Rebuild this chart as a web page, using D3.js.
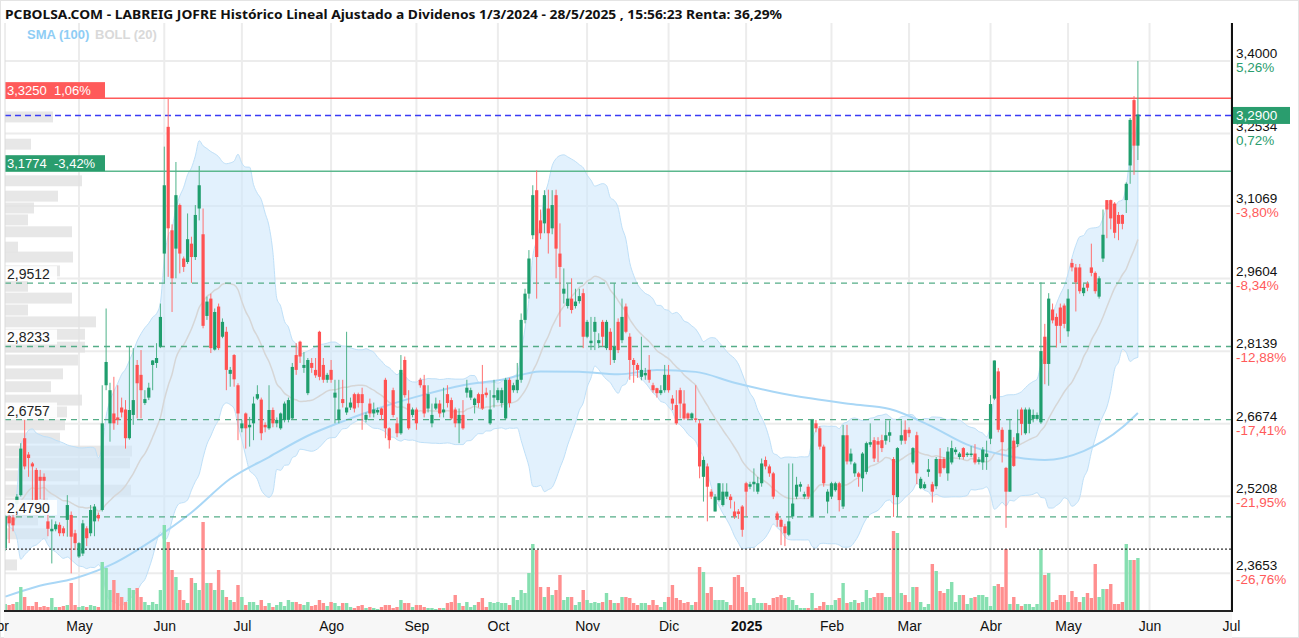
<!DOCTYPE html>
<html><head><meta charset="utf-8">
<script src="https://cdn.jsdelivr.net/npm/d3@7"></script>
<style>body{margin:0;background:#fff;overflow:hidden}svg{display:block}</style>
</head><body>
<svg id="c" width="1299" height="638"></svg>
<script>
const title = "PCBOLSA.COM - LABREIG JOFRE Histórico Lineal Ajustado a Dividenos 1/3/2024 - 28/5/2025 , 15:56:23 Renta: 36,29%";
const firstCalendarDay = "2024-04-02";
const lastCalendarDay = "2025-07-01";
const holidays = ["2024-05-01","2024-12-25","2024-12-26","2025-01-01","2025-04-18","2025-04-21","2025-05-01"];
const firstCandleDay = "2024-04-04";
const monthLabels = ["Abr","May","Jun","Jul","Ago","Sep","Oct","Nov","Dic","2025","Feb","Mar","Abr","May","Jun","Jul"];

// [open, high, low, close]
const candles = [
// Apr 2024
[2.416,2.482,2.410,2.480],[2.480,2.483,2.426,2.466],[2.478,2.485,2.450,2.462],[2.505,2.525,2.490,2.520],[2.523,2.628,2.520,2.617],
[2.638,2.675,2.575,2.581],[2.605,2.610,2.560,2.598],[2.587,2.590,2.513,2.581],[2.574,2.578,2.510,2.513],[2.560,2.574,2.515,2.552],
[2.560,2.567,2.513,2.552],[2.470,2.500,2.440,2.455],[2.450,2.474,2.385,2.455],[2.454,2.470,2.450,2.464],[2.463,2.468,2.440,2.446],
[2.456,2.460,2.440,2.446],[2.473,2.523,2.439,2.503],[2.483,2.490,2.365,2.439],[2.446,2.453,2.412,2.426],
// May
[2.399,2.428,2.396,2.426],[2.405,2.473,2.400,2.466],[2.456,2.460,2.420,2.436],[2.446,2.503,2.440,2.493],[2.470,2.505,2.440,2.500],
[2.483,2.488,2.470,2.476],[2.493,2.745,2.490,2.668],[2.745,2.900,2.735,2.792],[2.668,2.750,2.631,2.735],[2.688,2.762,2.655,2.668],
[2.680,2.745,2.665,2.675],[2.700,2.720,2.680,2.690],[2.696,2.715,2.617,2.638],[2.638,2.823,2.635,2.695],[2.685,2.820,2.665,2.715],
[2.786,2.796,2.678,2.749],[2.766,2.816,2.678,2.735],[2.709,2.735,2.705,2.717],[2.720,2.750,2.715,2.740],[2.786,2.796,2.735,2.795],
[2.790,2.830,2.780,2.800],[2.823,2.910,2.820,2.883],
// Jun
[3.011,3.227,2.951,3.149],[3.267,3.326,2.964,3.062],[3.058,3.070,2.893,2.961],[3.021,3.196,2.961,3.129],[3.109,3.112,2.971,3.011],
[3.001,3.005,2.974,2.984],[2.994,3.092,2.990,3.040],[3.031,3.045,2.952,3.004],[3.004,3.109,2.998,3.089],[3.102,3.188,3.078,3.149],
[3.050,3.102,2.860,2.865],[2.885,2.924,2.877,2.914],[2.920,2.930,2.810,2.820],[2.817,2.900,2.815,2.893],[2.904,2.910,2.816,2.820],
[2.843,2.880,2.840,2.873],[2.853,2.863,2.735,2.776],[2.768,2.782,2.742,2.776],[2.806,2.808,2.742,2.757],[2.745,2.749,2.634,2.688],
// Jul
[2.658,2.675,2.650,2.668],[2.688,2.690,2.617,2.658],[2.660,2.681,2.621,2.665],[2.668,2.722,2.634,2.708],[2.718,2.745,2.715,2.727],
[2.716,2.720,2.634,2.648],[2.665,2.670,2.650,2.660],[2.658,2.745,2.655,2.695],[2.695,2.700,2.660,2.668],[2.668,2.680,2.660,2.675],
[2.658,2.690,2.655,2.688],[2.675,2.712,2.670,2.708],[2.675,2.720,2.670,2.715],[2.678,2.790,2.675,2.782],[2.806,2.830,2.766,2.776],
[2.833,2.835,2.790,2.803],[2.780,2.812,2.770,2.786],[2.729,2.800,2.725,2.796],[2.790,2.800,2.770,2.780],[2.776,2.800,2.760,2.765],
[2.853,2.855,2.755,2.762],[2.786,2.800,2.750,2.756],[2.756,2.770,2.750,2.766],
// Ago
[2.776,2.796,2.750,2.756],[2.720,2.756,2.668,2.730],[2.675,2.756,2.668,2.696],[2.717,2.756,2.700,2.709],[2.690,2.853,2.685,2.700],
[2.700,2.720,2.695,2.710],[2.727,2.730,2.690,2.698],[2.727,2.730,2.700,2.709],[2.727,2.740,2.655,2.709],[2.675,2.690,2.670,2.685],
[2.708,2.718,2.680,2.688],[2.688,2.710,2.680,2.696],[2.690,2.700,2.685,2.695],[2.698,2.700,2.675,2.685],[2.756,2.760,2.638,2.658],
[2.658,2.660,2.617,2.634],[2.735,2.740,2.680,2.685],[2.668,2.680,2.640,2.648],[2.648,2.806,2.645,2.776],[2.796,2.803,2.720,2.725],
[2.708,2.735,2.655,2.658],[2.685,2.700,2.680,2.696],
// Sep
[2.696,2.700,2.655,2.668],[2.756,2.760,2.740,2.745],[2.745,2.766,2.680,2.688],[2.698,2.745,2.690,2.727],[2.668,2.708,2.660,2.685],
[2.698,2.720,2.695,2.708],[2.708,2.715,2.680,2.688],[2.690,2.740,2.680,2.696],[2.727,2.745,2.700,2.709],[2.715,2.720,2.675,2.678],
[2.696,2.700,2.660,2.668],[2.668,2.698,2.628,2.685],[2.685,2.715,2.655,2.658],[2.730,2.756,2.720,2.740],[2.720,2.740,2.715,2.735],
[2.705,2.720,2.688,2.718],[2.727,2.730,2.700,2.709],[2.727,2.786,2.695,2.698],[2.730,2.740,2.720,2.725],[2.668,2.735,2.665,2.696],
[2.720,2.756,2.700,2.725],
// Oct
[2.715,2.740,2.710,2.735],[2.709,2.740,2.700,2.735],[2.678,2.760,2.675,2.756],[2.756,2.760,2.700,2.709],[2.735,2.750,2.730,2.745],
[2.735,2.790,2.729,2.756],[2.756,2.890,2.750,2.877],[2.877,2.940,2.870,2.930],[2.930,3.018,2.920,3.001],[3.048,3.149,3.040,3.129],
[3.139,3.179,2.920,3.004],[3.078,3.100,3.040,3.052],[3.072,3.139,3.052,3.129],[3.102,3.140,3.011,3.052],[3.062,3.139,3.050,3.109],
[3.129,3.140,2.961,3.021],[3.011,3.072,2.863,2.984],[2.930,2.981,2.910,2.940],[2.905,2.950,2.900,2.920],[2.920,2.961,2.890,2.897],
[2.905,2.940,2.900,2.914],[2.915,2.940,2.910,2.925],[2.931,2.940,2.820,2.843],
// Nov
[2.843,2.877,2.840,2.873],[2.830,2.883,2.816,2.835],[2.853,2.883,2.816,2.873],[2.830,2.850,2.820,2.836],[2.873,2.877,2.823,2.843],
[2.820,2.877,2.816,2.873],[2.853,2.860,2.786,2.816],[2.796,2.951,2.790,2.823],[2.873,2.880,2.810,2.816],[2.836,2.920,2.830,2.883],
[2.904,2.910,2.850,2.853],[2.843,2.850,2.756,2.796],[2.796,2.800,2.750,2.786],[2.786,2.790,2.760,2.776],[2.762,2.843,2.755,2.776],
[2.765,2.780,2.756,2.770],[2.776,2.806,2.750,2.756],[2.745,2.750,2.730,2.735],[2.739,2.740,2.720,2.729],[2.729,2.745,2.725,2.735],
[2.735,2.786,2.730,2.766],
// Dic
[2.766,2.786,2.730,2.735],[2.718,2.725,2.695,2.708],[2.705,2.735,2.665,2.668],[2.735,2.740,2.678,2.708],[2.708,2.735,2.675,2.678],
[2.688,2.690,2.675,2.678],[2.678,2.690,2.675,2.688],[2.678,2.745,2.670,2.675],[2.668,2.675,2.557,2.581],[2.560,2.601,2.510,2.594],
[2.581,2.587,2.470,2.540],[2.530,2.535,2.515,2.520],[2.490,2.525,2.490,2.520],[2.513,2.547,2.510,2.547],[2.503,2.547,2.500,2.530],
[2.520,2.547,2.515,2.530],[2.520,2.525,2.496,2.513],[2.490,2.510,2.475,2.480],[2.490,2.495,2.475,2.485],[2.500,2.503,2.439,2.453],
// Ene 2025
[2.547,2.550,2.480,2.530],[2.540,2.550,2.535,2.545],[2.545,2.577,2.530,2.550],[2.530,2.560,2.525,2.547],[2.547,2.597,2.540,2.587],
[2.594,2.601,2.575,2.581],[2.581,2.585,2.560,2.567],[2.567,2.570,2.515,2.520],[2.486,2.490,2.459,2.473],[2.473,2.476,2.422,2.459],
[2.460,2.465,2.420,2.446],[2.443,2.587,2.440,2.470],[2.480,2.587,2.475,2.506],[2.520,2.560,2.515,2.544],[2.540,2.550,2.530,2.545],
[2.520,2.530,2.515,2.525],[2.540,2.545,2.515,2.520],[2.480,2.677,2.478,2.675],[2.668,2.675,2.650,2.658],[2.658,2.662,2.615,2.621],
[2.621,2.625,2.540,2.547],[2.510,2.535,2.486,2.530],
// Feb
[2.520,2.550,2.515,2.547],[2.533,2.550,2.530,2.547],[2.547,2.550,2.490,2.513],[2.500,2.665,2.495,2.644],[2.644,2.665,2.585,2.591],
[2.591,2.617,2.585,2.607],[2.567,2.590,2.560,2.587],[2.567,2.570,2.540,2.560],[2.557,2.610,2.530,2.607],[2.570,2.631,2.565,2.628],
[2.625,2.668,2.620,2.630],[2.634,2.640,2.590,2.597],[2.632,2.640,2.590,2.625],[2.634,2.645,2.610,2.618],[2.633,2.674,2.625,2.644],
[2.643,2.674,2.630,2.650],[2.596,2.600,2.479,2.523],[2.519,2.620,2.479,2.618],[2.633,2.674,2.625,2.644],[2.655,2.674,2.626,2.633],
// Mar
[2.655,2.660,2.640,2.648],[2.589,2.620,2.585,2.618],[2.644,2.651,2.545,2.567],[2.537,2.560,2.535,2.556],[2.537,2.550,2.535,2.545],
[2.570,2.596,2.560,2.575],[2.545,2.550,2.508,2.530],[2.541,2.600,2.535,2.596],[2.596,2.618,2.560,2.567],[2.596,2.600,2.575,2.578],
[2.567,2.620,2.552,2.611],[2.589,2.633,2.585,2.618],[2.610,2.620,2.605,2.615],[2.600,2.610,2.595,2.607],[2.618,2.620,2.595,2.600],
[2.604,2.610,2.600,2.607],[2.604,2.622,2.600,2.607],[2.607,2.626,2.585,2.589],[2.590,2.600,2.585,2.595],[2.589,2.620,2.574,2.615],
[2.600,2.633,2.574,2.607],
// Abr
[2.637,2.725,2.626,2.707],[2.718,2.795,2.715,2.795],[2.773,2.780,2.650,2.655],[2.655,2.660,2.589,2.630],[2.578,2.580,2.457,2.530],
[2.530,2.677,2.530,2.655],[2.633,2.640,2.580,2.582],[2.626,2.696,2.620,2.648],[2.696,2.700,2.644,2.667],[2.648,2.700,2.645,2.696],
[2.667,2.700,2.648,2.696],[2.677,2.696,2.670,2.685],[2.677,2.690,2.674,2.685],[2.670,2.953,2.667,2.814],[2.843,2.869,2.747,2.788],
[2.788,2.931,2.744,2.920],[2.898,2.910,2.870,2.876],[2.883,2.890,2.821,2.865],[2.902,2.910,2.830,2.865],[2.906,2.910,2.860,2.869],
// May
[2.854,2.939,2.843,2.920],[2.992,3.000,2.975,2.983],[2.983,2.990,2.894,2.953],[2.983,2.990,2.930,2.935],[2.931,2.950,2.925,2.942],
[2.950,2.955,2.935,2.942],[2.983,3.031,2.965,2.972],[2.972,2.975,2.930,2.935],[2.924,2.965,2.920,2.961],[3.001,3.100,2.994,3.049],
[3.119,3.119,3.042,3.100],[3.119,3.120,3.060,3.082],[3.112,3.115,3.042,3.053],[3.089,3.095,3.038,3.071],[3.089,3.090,3.060,3.071],
[3.119,3.155,3.093,3.152],[3.189,3.285,3.152,3.281],[3.321,3.329,3.170,3.229],[3.229,3.400,3.200,3.292]
];

// volume (relative units)
const volumes = [
6,5,6,8,23,13,4,4,8,3,4,3,12,3,3,4,5,27,5,
3,4,3,5,4,3,48,42,20,30,17,13,8,22,20,22,13,8,5,8,6,20,
85,68,40,33,20,10,7,32,27,20,88,27,27,20,40,20,13,10,8,25,
13,5,8,8,5,10,4,7,3,5,8,4,10,8,8,6,5,8,4,5,10,7,4,
8,7,4,7,7,3,2,4,5,2,3,2,1,3,5,5,2,3,10,7,7,3,
5,5,3,2,2,1,2,2,7,8,15,7,4,8,3,5,8,12,3,8,7,
8,7,7,5,13,10,20,17,37,66,60,23,13,23,15,20,35,10,13,13,5,8,20,
10,7,8,7,8,17,10,7,7,13,13,12,7,5,7,7,5,10,5,3,8,
13,25,12,10,7,8,5,8,43,38,17,23,10,10,10,8,5,33,35,23,
18,5,12,7,7,7,5,12,13,15,12,13,10,5,2,2,2,17,2,4,8,5,
5,10,12,27,7,8,10,7,8,20,12,13,17,17,13,13,79,77,17,15,
8,23,23,8,3,6,46,39,19,17,21,28,8,15,15,6,12,13,15,15,13,
4,24,26,23,61,6,13,6,4,6,6,3,6,61,35,37,8,10,15,15,
8,19,13,8,13,17,12,46,13,21,21,26,6,6,8,66,50,50,52
];

// SMA(100) (trading-day index, value)
const sma100Idx = [2,10,20,30,40,50,60,70,80,90,100,110,120,130,140,150,160,170,180,190,200,210,220,230,240,250,260,270,280,290,294];
const sma100Val = [2.318,2.338,2.355,2.385,2.432,2.488,2.556,2.600,2.643,2.675,2.703,2.726,2.745,2.756,2.773,2.772,2.767,2.776,2.772,2.750,2.732,2.718,2.707,2.697,2.665,2.625,2.603,2.594,2.612,2.660,2.689];

// right axis
const axisPrices = [3.4, 3.2534, 3.1069, 2.9604, 2.8139, 2.6674, 2.5208, 2.3653];
const axisPriceLabels = ["3,4000","3,2534","3,1069","2,9604","2,8139","2,6674","2,5208","2,3653"];
const axisPctLabels = ["5,26%","0,72%","-3,80%","-8,34%","-12,88%","-17,41%","-21,95%","-26,76%"];

// support / resistance levels
const levelPrices = [2.9512, 2.8233, 2.6757, 2.4790];
const levelLabels = ["2,9512","2,8233","2,6757","2,4790"];
const lastPrice = 3.29, lastLabel = "3,2900";
const highLine = 3.325, highLabel = "3,3250  1,06%";
const lowLine = 3.1774, lowLabel = "3,1774  -3,42%";
const minLine = 2.414;

// volume profile (price bucket centre, volume)
const profilePrices = [3.287,3.232,3.158,3.127,3.103,3.079,3.055,3.024,3.004,2.976,2.945,2.921,2.897,2.873,2.848,2.822,2.796,2.768,2.742,2.715,2.691,2.665,2.638,2.612,2.588,2.562,2.533,2.507,2.473,2.445,2.382];
const profileVols   = [48,26,77,53,29,23,67,13,68,55,23,67,23,91,80,80,73,58,46,77,62,60,55,127,125,75,126,43,33,43,12];

// ---------------------------------------------------------------
const svg = d3.select("#c");
const GREEN = "#1f9e6d", RED = "#ff5252";
const VGREEN = "#86dfb0", VRED = "#ff8f8f";
const L = 5, R = 1232, T = 23, B = 610;

// trading calendar
const days = [];
for (let d = new Date(firstCalendarDay + "T12:00:00Z"); d <= new Date(lastCalendarDay + "T12:00:00Z"); d.setUTCDate(d.getUTCDate() + 1)) {
  const wd = d.getUTCDay(); const s = d.toISOString().slice(0, 10);
  if (wd === 0 || wd === 6 || holidays.includes(s)) continue;
  days.push(s);
}
const off = days.indexOf(firstCandleDay);
const monthStarts = days.map((d, i) => i).filter(i => i === 0 || days[i].slice(0, 7) !== days[i - 1].slice(0, 7));

const x = d3.scaleLinear().domain([0, days.length - 1]).range([-2.5, 1231]);
const y = d3.scaleLinear().domain([2.3653, 3.4]).range([573.2, 61]);
const yv = d3.scaleLinear().domain([0, 100]).range([B, B - 100]);
const xp = d3.scaleLinear().domain([0, 100]).range([L, L + 100]);

svg.append("defs").append("clipPath").attr("id", "plot")
  .append("rect").attr("x", L).attr("y", T).attr("width", R - L).attr("height", B - T);

// frame & backgrounds
svg.append("rect").attr("x", 0).attr("y", 0).attr("width", 1299).attr("height", 638).attr("fill", "#fff");
svg.append("rect").attr("x", 0.5).attr("y", 0.5).attr("width", 1298).attr("height", 637).attr("fill", "none").attr("stroke", "#e4e4e4");
svg.append("rect").attr("x", L - 1).attr("y", B + 2).attr("width", R - L + 1).attr("height", 26).attr("fill", "#f7f7f7");

const g = svg.append("g").attr("clip-path", "url(#plot)");

// grid
g.selectAll(".vg").data(monthStarts).join("line")
  .attr("x1", d => x(d)).attr("x2", d => x(d)).attr("y1", T).attr("y2", B)
  .attr("stroke", "#ececec").attr("stroke-width", 2);
g.selectAll(".hg").data(axisPrices).join("line")
  .attr("x1", L).attr("x2", R).attr("y1", d => y(d)).attr("y2", d => y(d))
  .attr("stroke", "#ececec").attr("stroke-width", 2);

// volume profile
const bucket = 0.0253;
g.selectAll(".vp").data(profilePrices).join("rect")
  .attr("x", L).attr("y", d => y(d + bucket / 2) + 0.8)
  .attr("width", (d, i) => xp(profileVols[i]) - L)
  .attr("height", d => y(d - bucket / 2) - y(d + bucket / 2) - 1.6)
  .attr("fill", "#e3e3e3").attr("opacity", 0.85);

// Bollinger (20, 2)
const closes = candles.map(c => c[3]);
const boll = closes.map((c, k) => {
  const w = closes.slice(Math.max(0, k - 19), k + 1);
  const m = d3.mean(w);
  const sd = Math.sqrt(d3.mean(w, v => (v - m) * (v - m)));
  return { i: k + off, m, u: m + 2 * sd, l: m - 2 * sd };
});
g.append("path").datum(boll)
  .attr("d", d3.area().x(d => x(d.i)).y0(d => y(d.l)).y1(d => y(d.u)).curve(d3.curveMonotoneX))
  .attr("fill", "#cfe8fb").attr("fill-opacity", 0.6)
  .attr("stroke", "#bfe0f8").attr("stroke-width", 1);
g.append("path").datum(boll)
  .attr("d", d3.line().x(d => x(d.i)).y(d => y(d.m)).curve(d3.curveMonotoneX))
  .attr("fill", "none").attr("stroke", "#d6d6d6").attr("stroke-width", 1.5);

// SMA 100
g.append("path").datum(sma100Idx.map((d, i) => [d, sma100Val[i]]))
  .attr("d", d3.line().x(d => x(d[0])).y(d => y(d[1])).curve(d3.curveMonotoneX))
  .attr("fill", "none").attr("stroke", "#a9d7f6").attr("stroke-width", 2);

// volume bars
g.selectAll(".vol").data(volumes).join("rect")
  .attr("x", (d, k) => x(k + off) - 1.7).attr("width", 3.4)
  .attr("y", d => yv(d)).attr("height", d => B - yv(d))
  .attr("fill", (d, k) => candles[k][3] >= candles[k][0] ? VGREEN : VRED);

// level lines
g.selectAll(".lvl").data(levelPrices).join("line")
  .attr("x1", L).attr("x2", R).attr("y1", d => y(d)).attr("y2", d => y(d))
  .attr("stroke", "#55ad88").attr("stroke-width", 1.3).attr("stroke-dasharray", "6,5");
g.append("line").attr("x1", L).attr("x2", R).attr("y1", y(minLine)).attr("y2", y(minLine))
  .attr("stroke", "#333").attr("stroke-width", 1.2).attr("stroke-dasharray", "2,2");
g.append("line").attr("x1", L).attr("x2", R).attr("y1", y(highLine)).attr("y2", y(highLine))
  .attr("stroke", "#ff5a5a").attr("stroke-width", 1.5);
g.append("line").attr("x1", L).attr("x2", R).attr("y1", y(lowLine)).attr("y2", y(lowLine))
  .attr("stroke", "#5cb88e").attr("stroke-width", 1.5);
g.append("line").attr("x1", L).attr("x2", R).attr("y1", y(lastPrice)).attr("y2", y(lastPrice))
  .attr("stroke", "#3b3bf5").attr("stroke-width", 1.5).attr("stroke-dasharray", "6,4");

// candles
const cg = g.selectAll(".cd").data(candles).join("g");
cg.append("line")
  .attr("x1", (d, k) => x(k + off)).attr("x2", (d, k) => x(k + off))
  .attr("y1", d => y(d[1])).attr("y2", d => y(d[2]))
  .attr("stroke", d => d[3] >= d[0] ? "#4fb38a" : "#ff7070").attr("stroke-width", 1);
cg.append("rect")
  .attr("x", (d, k) => x(k + off) - 1.6).attr("width", 3.2)
  .attr("y", d => y(Math.max(d[0], d[3])))
  .attr("height", d => Math.max(1.2, Math.abs(y(d[0]) - y(d[3]))))
  .attr("fill", d => d[3] >= d[0] ? GREEN : RED);

// left labels for levels
const FONT = "'Liberation Sans', Arial, sans-serif";
levelPrices.forEach((p, i) => {
  svg.append("rect").attr("x", L).attr("y", y(p) - 17).attr("width", 52).attr("height", 15).attr("fill", "#fff").attr("opacity", 0.9);
  svg.append("text").attr("x", L + 2).attr("y", y(p) - 4).text(levelLabels[i])
    .attr("font-family", FONT).attr("font-size", 14).attr("fill", "#222");
});
svg.append("rect").attr("x", L).attr("y", y(highLine) - 16).attr("width", 100).attr("height", 16).attr("fill", "#ff5a5a");
svg.append("text").attr("x", L + 2).attr("y", y(highLine) - 3.5).text(highLabel).attr("xml:space", "preserve")
  .attr("font-family", FONT).attr("font-size", 13).attr("fill", "#fff");
svg.append("rect").attr("x", L).attr("y", y(lowLine) - 16).attr("width", 100).attr("height", 16).attr("fill", "#2a9d6e");
svg.append("text").attr("x", L + 2).attr("y", y(lowLine) - 3.5).text(lowLabel).attr("xml:space", "preserve")
  .attr("font-family", FONT).attr("font-size", 13).attr("fill", "#fff");

// plot border lines
svg.append("line").attr("x1", L).attr("x2", L).attr("y1", T).attr("y2", B).attr("stroke", "#dcdcdc");
svg.append("line").attr("x1", R).attr("x2", R).attr("y1", T).attr("y2", B + 2).attr("stroke", "#111").attr("stroke-width", 2);

// x axis
const xAxis = d3.axisBottom(x).tickValues(monthStarts).tickFormat((d, i) => monthLabels[i]).tickSize(0).tickPadding(0);
const ax = svg.append("g").attr("transform", `translate(0,${B})`).call(xAxis);
ax.select(".domain").remove();
ax.selectAll("text").attr("font-family", "'Liberation Sans Narrow','Arial Narrow','Liberation Sans',sans-serif")
  .attr("font-size", 14).attr("fill", "#111").attr("dy", 0).attr("y", 21)
  .attr("font-weight", (d, i) => monthLabels[i] === "2025" ? "bold" : "normal");
svg.append("line").attr("x1", L - 1).attr("x2", R).attr("y1", B + 1).attr("y2", B + 1).attr("stroke", "#222").attr("stroke-width", 2);

// right axis labels
axisPrices.forEach((p, i) => {
  svg.append("text").attr("x", 1236).attr("y", y(p) - 3).text(axisPriceLabels[i])
    .attr("font-family", FONT).attr("font-size", 13.5).attr("fill", "#111");
  svg.append("text").attr("x", 1236).attr("y", y(p) + 11).text(axisPctLabels[i])
    .attr("font-family", FONT).attr("font-size", 13.5).attr("fill", axisPctLabels[i].startsWith("-") ? "#ff5a5a" : "#2a9d6e");
});
svg.append("rect").attr("x", 1233).attr("y", y(lastPrice) - 8.5).attr("width", 57).attr("height", 17).attr("fill", "#2a9d6e");
svg.append("text").attr("x", 1236).attr("y", y(lastPrice) + 5).text(lastLabel)
  .attr("font-family", FONT).attr("font-size", 13.5).attr("fill", "#fff");

// title & legend
svg.append("text").attr("x", 5).attr("y", 19).text(title)
  .attr("font-family", "'Noto Sans','Open Sans',sans-serif").attr("font-weight", "bold").attr("font-size", 13)
  .attr("fill", "#111").attr("textLength", 777).attr("lengthAdjust", "spacingAndGlyphs");
svg.append("text").attr("x", 27).attr("y", 39).text("SMA (100)")
  .attr("font-family", FONT).attr("font-weight", "bold").attr("font-size", 13).attr("fill", "#8fcdf5");
svg.append("text").attr("x", 95).attr("y", 39).text("BOLL (20)")
  .attr("font-family", FONT).attr("font-weight", "bold").attr("font-size", 13).attr("fill", "#d9d9d9");
</script>
</body></html>
